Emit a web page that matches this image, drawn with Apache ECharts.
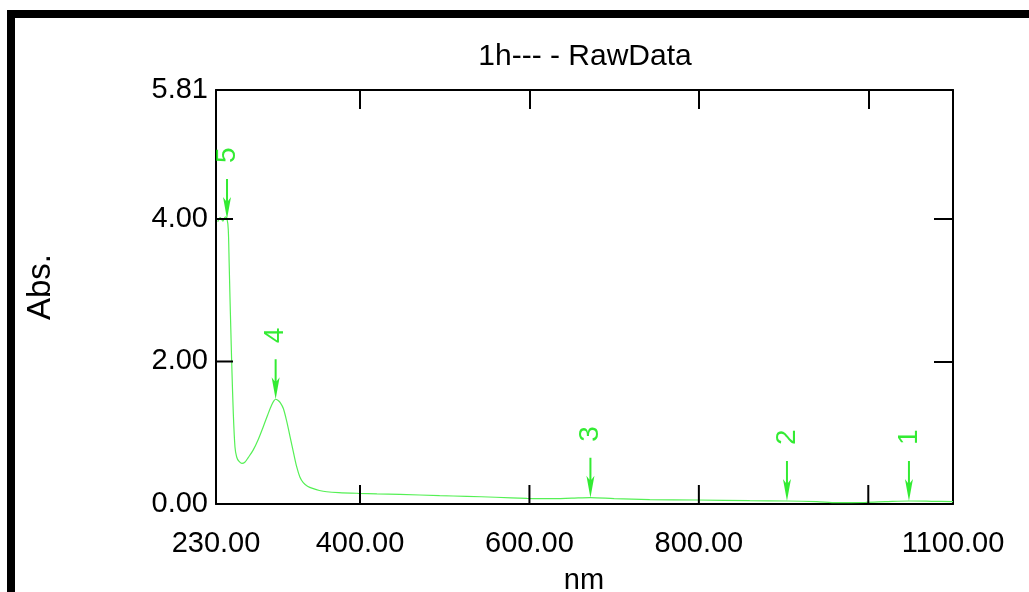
<!DOCTYPE html>
<html>
<head>
<meta charset="utf-8">
<script src="https://cdn.jsdelivr.net/npm/echarts@6/dist/echarts.min.js"></script>
<style>
  html, body { margin: 0; padding: 0; background: #fff; }
  #chart { width: 1029px; height: 592px; }
</style>
</head>
<body>
<div id="chart"></div>
<script>
// spectrum
const wavelength = [232, 235, 238, 241, 243, 244.5, 245.5, 246.5, 247.5, 248.5, 250.4, 252.4, 254.4, 257, 260.5, 264, 268, 274, 280, 285.8, 291, 295.7, 298.5, 300.4, 303, 306, 309.5, 313.5, 317.4, 321.5, 325.3, 329, 333, 338, 344.9, 352, 360.7, 375, 398, 420, 447, 494, 526, 560, 597, 624, 650, 672, 700, 742, 798, 860, 904, 939, 963, 997, 1020, 1048, 1075, 1100];
const absorbance = [3.96, 4.02, 3.97, 4.03, 4.0, 3.85, 3.4, 2.9, 2.45, 2.0, 1.28, 0.80, 0.66, 0.6, 0.57, 0.585, 0.65, 0.76, 0.91, 1.085, 1.25, 1.39, 1.45, 1.47, 1.455, 1.42, 1.34, 1.16, 0.945, 0.72, 0.52, 0.38, 0.30, 0.25, 0.215, 0.19, 0.172, 0.16, 0.15, 0.143, 0.135, 0.117, 0.108, 0.095, 0.08, 0.075, 0.082, 0.089, 0.075, 0.062, 0.056, 0.047, 0.042, 0.033, 0.02, 0.023, 0.032, 0.042, 0.038, 0.033];

// peak picks
const peakNo = ['1', '2', '3', '4', '5'];
const peakWl = [1048, 904, 672, 300.4, 243];
const peakAbs = [0.042, 0.042, 0.089, 1.47, 4.0];

// axis ticks / labels
const xLabels = [230, 400, 600, 800, 1100];
const xTicks = [400, 600, 800, 1000];
const yLabels = [0, 2, 4, 5.81];
const yTicks = [2, 4];

const FONT = "'Liberation Sans', Arial, sans-serif";
const ARROW = 'path://M3,0 L5,0 L5,22 L8,18 L4,40 L0,18 L3,22 Z';

const chart = echarts.init(document.getElementById('chart'));

const tickStyle = { color: '#000', width: 2 };
const lineStyle = { color: '#000', width: 2 };

function tickAxis(position, min, max, ticks, len) {
  return {
    type: 'value', min: min, max: max, position: position,
    axisLine: { show: true, onZero: false, lineStyle: lineStyle },
    axisTick: { show: true, inside: true, length: len, customValues: ticks, lineStyle: tickStyle },
    axisLabel: { show: false },
    splitLine: { show: false }
  };
}

const option = {
  backgroundColor: '#fff',
  animation: false,
  title: {
    text: '1h--- - RawData',
    left: 580, textAlign: 'center',
    top: 37,
    textStyle: { fontFamily: FONT, fontSize: 30, fontWeight: 'normal', color: '#000' }
  },
  grid: { left: 216, right: 76, top: 90, bottom: 88 },
  xAxis: [
    {
      type: 'value', min: 230, max: 1100, position: 'bottom',
      axisLine: { show: true, onZero: false, lineStyle: lineStyle },
      axisTick: { show: false },
      axisLabel: { customValues: xLabels, margin: 25, fontFamily: FONT, fontSize: 29, color: '#000',
        formatter: v => v.toFixed(2) },
      splitLine: { show: false }
    },
    tickAxis('top', 230, 1100, xTicks, 19)
  ],
  yAxis: [
    {
      type: 'value', min: 0, max: 5.81, position: 'left',
      axisLine: { show: true, onZero: false, lineStyle: lineStyle },
      axisTick: { show: false },
      axisLabel: { customValues: yLabels, margin: 8, fontFamily: FONT, fontSize: 29, color: '#000',
        formatter: v => v.toFixed(2) },
      splitLine: { show: false }
    },
    tickAxis('right', 0, 5.81, yTicks, 19)
  ],
  series: [
    {
      type: 'line',
      data: wavelength.map((w, i) => [w, absorbance[i]]),
      showSymbol: false,
      smooth: 0.3,
      lineStyle: { color: '#55f055', width: 1.2 },
      z: 2
    },
    {
      type: 'scatter',
      data: peakWl.map((w, i) => ({ name: peakNo[i], value: [w, peakAbs[i]] })),
      symbol: ARROW,
      symbolSize: [8, 40],
      symbolOffset: [0, '-50%'],
      itemStyle: { color: '#00e600' },
      clip: false,
      label: {
        show: true, formatter: p => p.name, position: 'top', distance: 16,
        rotate: 90, align: 'left', verticalAlign: 'middle',
        fontFamily: FONT, fontSize: 28, color: '#00e600'
      },
      z: 3
    }
  ]
};

chart.setOption(option);

// inward ticks on bottom / left, placed through the axis scales
const x0 = chart.convertToPixel({ xAxisIndex: 0 }, 230);
const y0 = chart.convertToPixel({ yAxisIndex: 0 }, 0);
const tickEls = [];
xTicks.forEach(v => {
  const px = chart.convertToPixel({ xAxisIndex: 0 }, v);
  tickEls.push({ type: 'line', z: 10, shape: { x1: px, y1: y0, x2: px, y2: y0 - 19 }, style: { stroke: '#000', lineWidth: 2 } });
});
yTicks.forEach(v => {
  const py = chart.convertToPixel({ yAxisIndex: 0 }, v);
  tickEls.push({ type: 'line', z: 10, shape: { x1: x0, y1: py, x2: x0 + 17, y2: py }, style: { stroke: '#000', lineWidth: 2 } });
});

chart.setOption({
  graphic: [
    { type: 'rect', shape: { x: 7, y: 10, width: 1022, height: 8 }, style: { fill: '#000' } },
    { type: 'rect', shape: { x: 7, y: 10, width: 8, height: 582 }, style: { fill: '#000' } },
    { type: 'text', x: 41, y: 287, rotation: Math.PI / 2,
      style: { text: 'Abs.', font: "33px 'Liberation Sans', Arial, sans-serif", fill: '#000',
        textAlign: 'center', textVerticalAlign: 'middle' } },
    { type: 'text', x: 584, y: 581,
      style: { text: 'nm', font: "29px 'Liberation Sans', Arial, sans-serif", fill: '#000',
        textAlign: 'center', textVerticalAlign: 'middle' } }
  ].concat(tickEls)
});
</script>
</body>
</html>
